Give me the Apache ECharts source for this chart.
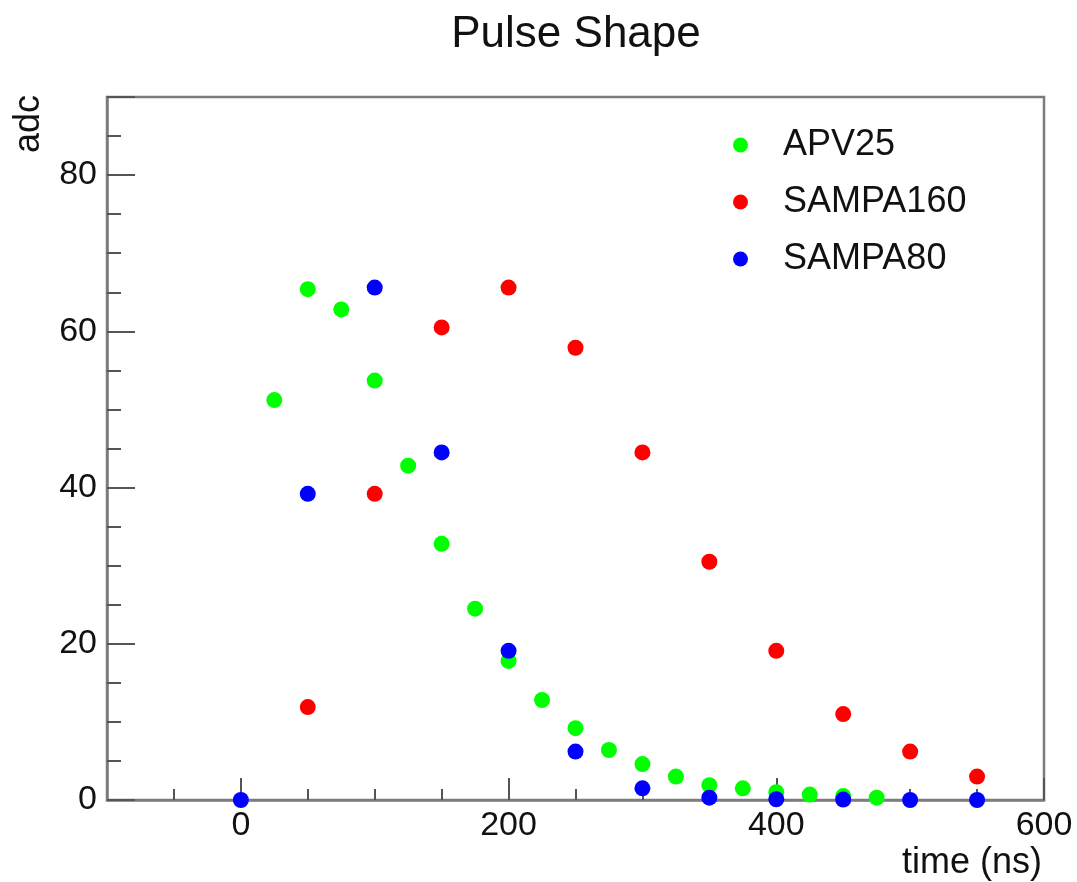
<!DOCTYPE html>
<html><head><meta charset="utf-8">
<script src="https://cdn.jsdelivr.net/npm/echarts@6/dist/echarts.min.js"></script>
<style>html,body{margin:0;padding:0;background:#fff}#c{width:1077px;height:882px}</style>
</head><body><div id="c"></div>
<script>
const seriesNames = ['APV25', 'SAMPA160', 'SAMPA80'];
const apvTime = [25, 50, 75, 100, 125, 150, 175, 200, 225, 250, 275, 300, 325, 350, 375, 400, 425, 450, 475];
const apvAdc  = [51.2, 65.4, 62.8, 53.7, 42.8, 32.8, 24.5, 17.8, 12.8, 9.2, 6.4, 4.6, 3.0, 1.9, 1.5, 1.0, 0.7, 0.5, 0.3];
const s160Time = [50, 100, 150, 200, 250, 300, 350, 400, 450, 500, 550];
const s160Adc  = [11.9, 39.2, 60.5, 65.6, 57.9, 44.5, 30.5, 19.1, 11.0, 6.2, 3.0];
const s80Time = [0, 50, 100, 150, 200, 250, 300, 350, 400, 450, 500, 550];
const s80Adc  = [0, 39.2, 65.6, 44.5, 19.1, 6.2, 1.5, 0.3, 0.1, 0.05, 0, 0];
const xMajorTicks = [0, 200, 400, 600];
const xMinorTicks = [-50, 50, 100, 150, 250, 300, 350, 450, 500, 550];
const yLabelTicks = [0, 20, 40, 60, 80];
const yMin = 0, yMax = 90, yStep = 20;
const xMin = -100, xMax = 600;

const zip = (a, b) => a.map((v, i) => [v, b[i]]);
const FONT = 'Liberation Sans, Arial, Helvetica, sans-serif';
const frameColor = '#7c7c7c';
const tickColor = '#555';

const chart = echarts.init(document.getElementById('c'), null, {renderer: 'canvas'});
chart.setOption({
  animation: false,
  backgroundColor: '#fff',
  title: {
    text: 'Pulse Shape', left: 571, top: 8, textAlign: 'center',
    textStyle: {fontFamily: FONT, fontSize: 44, fontWeight: 'normal', color: '#111'}
  },
  grid: {left: 107, right: 33, top: 97, bottom: 82, show: true, borderColor: frameColor, borderWidth: 2.5, backgroundColor: 'transparent'},
  legend: {
    orient: 'vertical', left: 728, top: 122, itemWidth: 15, itemHeight: 15, itemGap: 21,
    data: seriesNames.map(n => ({name: n, icon: 'circle'})),
    textStyle: {fontFamily: FONT, fontSize: 36, color: '#111', lineHeight: 36, padding: [0, 0, 0, 30]}
  },
  xAxis: [{
    type: 'value', min: xMin, max: xMax, position: 'bottom',
    name: 'time (ns)', nameLocation: 'end', nameGap: -2,
    nameTextStyle: {fontFamily: FONT, fontSize: 36, color: '#111', align: 'right', verticalAlign: 'top', padding: [45, 0, 0, 0]},
    axisLine: {show: true, onZero: false, lineStyle: {color: frameColor, width: 2.5}},
    axisTick: {show: true, inside: true, length: 22, customValues: xMajorTicks, lineStyle: {color: tickColor, width: 2}},
    axisLabel: {customValues: xMajorTicks, fontFamily: FONT, fontSize: 34, color: '#111', margin: 9},
    splitLine: {show: false}
  }, {
    type: 'value', min: xMin, max: xMax, position: 'bottom', gridIndex: 0,
    axisLine: {show: false, onZero: false},
    axisTick: {show: true, inside: true, length: 11, customValues: xMinorTicks, lineStyle: {color: tickColor, width: 2}},
    axisLabel: {show: false},
    splitLine: {show: false}
  }],
  yAxis: [{
    type: 'value', min: yMin, max: yMax, interval: yStep,
    name: 'adc', nameLocation: 'end', nameRotate: 90, nameGap: 2,
    nameTextStyle: {fontFamily: FONT, fontSize: 36, color: '#111', align: 'right', verticalAlign: 'bottom', padding: [0, 0, 60, 0]},
    axisLine: {show: true, onZero: false, lineStyle: {color: frameColor, width: 2.5}},
    axisTick: {show: true, inside: true, length: 28, lineStyle: {color: tickColor, width: 2}},
    minorTick: {show: true, splitNumber: 4, length: 14, lineStyle: {color: tickColor, width: 2}},
    axisLabel: {customValues: yLabelTicks, fontFamily: FONT, fontSize: 34, color: '#111', margin: 10},
    splitLine: {show: false}
  }],
  series: [
    {name: seriesNames[0], type: 'scatter', symbol: 'circle', symbolSize: 16, itemStyle: {color: '#00ff00', opacity: 1}, data: zip(apvTime, apvAdc)},
    {name: seriesNames[1], type: 'scatter', symbol: 'circle', symbolSize: 16, itemStyle: {color: '#ff0000', opacity: 1}, data: zip(s160Time, s160Adc)},
    {name: seriesNames[2], type: 'scatter', symbol: 'circle', symbolSize: 16, itemStyle: {color: '#0000ff', opacity: 1}, data: zip(s80Time, s80Adc)}
  ]
});
</script></body></html>
